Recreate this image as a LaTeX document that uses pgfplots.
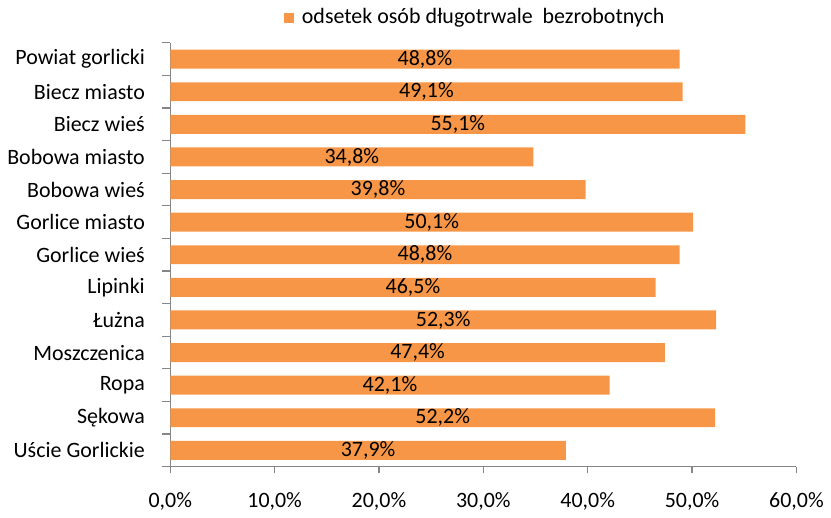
\documentclass[border=0pt]{standalone}
\usepackage{pgfplots}
\pgfplotsset{compat=1.18}
\usepackage{fontspec}
\setmainfont{Carlito}
\definecolor{bar}{HTML}{F79646}
\definecolor{ax}{HTML}{868686}
\pgfplotstableread{
idx val
0 48.8
1 49.1
2 55.1
3 34.8
4 39.8
5 50.1
6 48.8
7 46.5
8 52.3
9 47.4
10 42.1
11 52.2
12 37.9
}\data
\begin{document}
\fontsize{22}{26}\selectfont
\begin{tikzpicture}
\begin{axis}[
  at={(0pt,0pt)}, anchor=south west,
  scale only axis, width=628pt, height=425pt,
  xmin=0, xmax=60, ymin=-0.5, ymax=12.5, y dir=reverse,
  axis x line*=bottom, axis y line*=left,
  axis line style={ax, line width=1.2pt},
  xtick={0,10,...,60},
  xticklabels={{0,0\%},{10,0\%},{20,0\%},{30,0\%},{40,0\%},{50,0\%},{60,0\%}},
  x tick label style={yshift=-12pt},
  ytick={0,...,12},
  yticklabels={Powiat gorlicki, Biecz miasto, Biecz wieś, Bobowa miasto, Bobowa wieś, Gorlice miasto, Gorlice wieś, Lipinki, Łużna, Moszczenica, Ropa, Sękowa, Uście Gorlickie},
  y tick label style={xshift=-12pt},
  minor ytick={-0.5,0.5,...,12.5},
  major y tick style={draw=none},
  tick style={ax, line width=1.2pt},
  minor tick length=8pt, major tick length=6pt,
  tick align=outside,
  xtick pos=bottom, ytick pos=left,
  ticklabel style={font=\fontsize{22}{26}\selectfont},
  xbar, bar width=19pt, bar shift=0pt,
  legend style={at={(rel axis cs:0.487,1.059)}, anchor=center, draw=none, fill=none, font=\fontsize{22}{26}\selectfont},
  legend image code/.code={\fill[bar] (0pt,-5pt) rectangle (10pt,5pt); \path (16pt,0pt);},
  clip=false,
]
\addplot[fill=bar, draw=none,
  nodes near coords={\pgfmathprintnumber[fixed,fixed zerofill,precision=1,use comma,assume math mode=true]{\pgfplotspointmeta}\%},
  point meta=x,
  every node near coord/.append style={font=\fontsize{22}{26}\selectfont, anchor=center, black},
  nodes near coords align=center,
  visualization depends on={x/2 \as \halfx},
  every node near coord/.append style={shift={(axis direction cs:-\halfx,0)}},
] table[x=val, y=idx] {\data};
\addlegendentry{odsetek osób długotrwale\ \ bezrobotnych}
\end{axis}
\path[use as bounding box] (-170pt,-47pt) rectangle (661pt,468pt);
\end{tikzpicture}
\end{document}
